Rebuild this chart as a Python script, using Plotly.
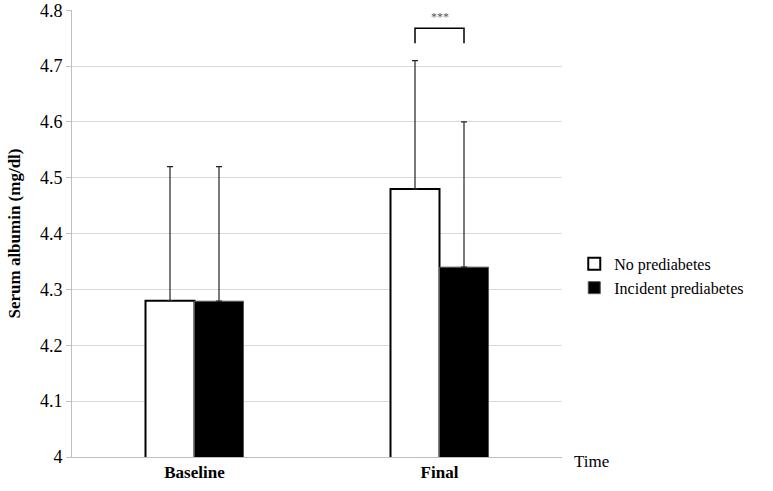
import plotly.graph_objects as go

categories = ["Baseline", "Final"]
series_names = ["No prediabetes", "Incident prediabetes"]
means_no = [4.28, 4.48]
means_inc = [4.279, 4.34]
sd_no = [0.24, 0.23]
sd_inc = [0.241, 0.26]
y_ticks = [4, 4.1, 4.2, 4.3, 4.4, 4.5, 4.6, 4.7, 4.8]
y_tick_labels = ["4", "4.1", "4.2", "4.3", "4.4", "4.5", "4.6", "4.7", "4.8"]
sig_label = "***"

FONT = "'Liberation Serif', 'Times New Roman', Times, serif"
x_pos = list(range(len(categories)))

fig = go.Figure()
fig.add_trace(go.Bar(
    x=x_pos, y=means_no, name=series_names[0],
    marker=dict(color="white", line=dict(color="black", width=2)),
    error_y=dict(type="data", array=sd_no, arrayminus=[0, 0], symmetric=False,
                 color="#222222", thickness=1.2, width=3),
))
fig.add_trace(go.Bar(
    x=x_pos, y=means_inc, name=series_names[1],
    marker=dict(color="black", line=dict(color="#555555", width=1)),
    error_y=dict(type="data", array=sd_inc, arrayminus=[0, 0], symmetric=False,
                 color="#222222", thickness=1.2, width=3),
))

# significance bracket over Final group
bx0, bx1 = 1 - 0.1, 1 + 0.1
by_top, by_bot = 4.768, 4.741
fig.add_shape(type="path", xref="x", yref="y",
              path=f"M {bx0} {by_bot} L {bx0} {by_top} L {bx1} {by_top} L {bx1} {by_bot}",
              line=dict(color="black", width=1.5))
fig.add_annotation(x=1, y=by_top, xref="x", yref="y", text=sig_label,
                   showarrow=False, yanchor="bottom", yshift=2,
                   font=dict(family=FONT, size=12, color="#595959"))
fig.add_annotation(x=1.0, y=0, xref="paper", yref="paper", text="Time",
                   showarrow=False, xanchor="left", yanchor="middle", xshift=10, yshift=-4,
                   font=dict(family=FONT, size=17, color="black"))

fig.update_layout(
    width=773, height=491,
    margin=dict(l=72, r=211, t=10, b=34),
    paper_bgcolor="white", plot_bgcolor="white",
    barmode="group", bargap=0.6, bargroupgap=0,
    font=dict(family=FONT, size=16, color="black"),
    legend=dict(x=1.025, y=0.405, xanchor="left", yanchor="middle",
                font=dict(family=FONT, size=16), tracegroupgap=0,
                itemwidth=30),
    xaxis=dict(range=[-0.5, 1.5], tickvals=x_pos, ticktext=categories,
               tickfont=dict(family=FONT, size=17, color="black", weight="bold"),
               showline=True, linecolor="#bfbfbf", linewidth=1, ticks="",
               showgrid=False, zeroline=False, automargin=False),
    yaxis=dict(range=[4, 4.8005], tickvals=y_ticks, ticktext=y_tick_labels,
               tickfont=dict(family=FONT, size=18, color="black"),
               ticklabeloverflow="allow",
               showgrid=True, gridcolor="#d9d9d9", gridwidth=1,
               showline=True, linecolor="#bfbfbf", linewidth=1,
               ticks="outside", ticklen=5, tickcolor="#bfbfbf",
               zeroline=False, automargin=False,
               title=dict(text="<b>Serum albumin (mg/dl)</b>", font=dict(family=FONT, size=17),
                          standoff=14)),
)

fig.write_html("out.html", config={"displayModeBar": False},
               post_script="document.body.style.margin='0px';")
